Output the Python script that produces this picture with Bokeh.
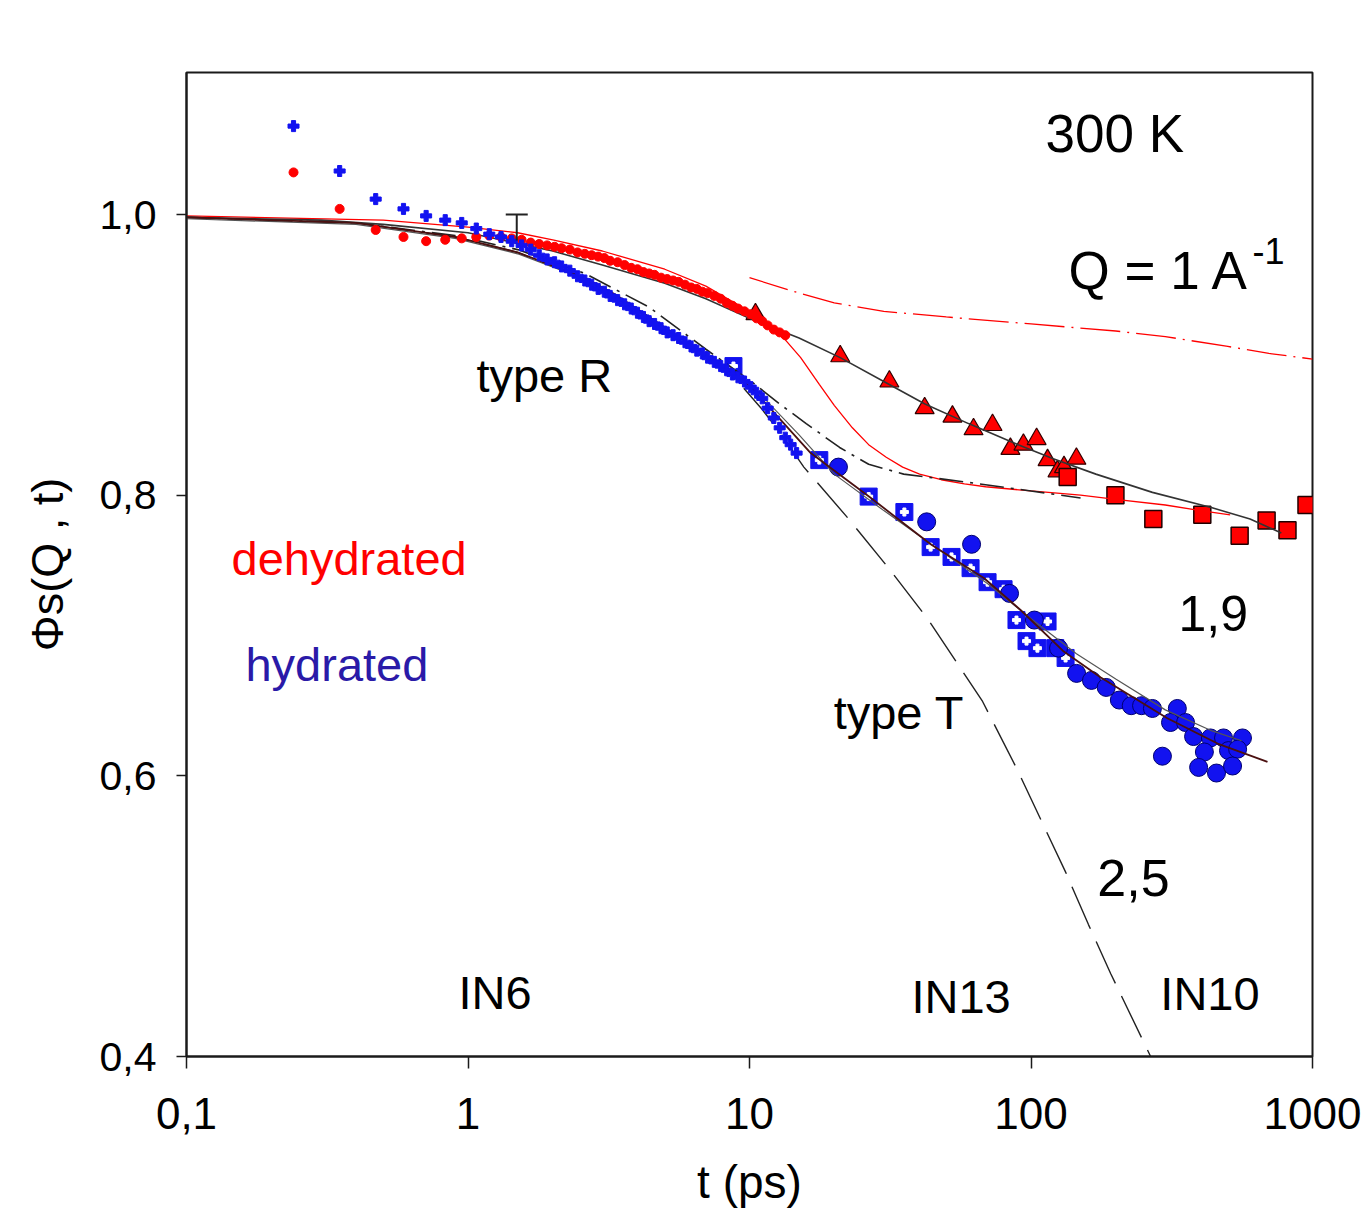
from bokeh.plotting import figure
from bokeh.models import Range1d, FixedTicker, CustomJSTickFormatter
from bokeh.core.properties import value
from bokeh.embed import file_html
from bokeh.resources import INLINE

FONT = "Liberation Sans"

# ---------------- axes ----------------
x_ticks = [0.1, 1, 10, 100, 1000]
x_tick_labels = ["0,1", "1", "10", "100", "1000"]
y_ticks = [0.4, 0.6, 0.8, 1.0]
y_tick_labels = ["0,4", "0,6", "0,8", "1,0"]
x_title = "t (ps)"
y_title = "\u03a6s(Q , t)"

# ---------------- IN6 data (small dots) ----------------
t_in6 = [0.24, 0.35, 0.47, 0.59, 0.71, 0.83, 0.95, 1.07, 1.19, 1.31, 1.43, 1.55,
         1.67, 1.79, 1.91, 2.03, 2.15, 2.3, 2.45, 2.6, 2.75, 2.9, 3.05, 3.2, 3.4,
         3.6, 3.8, 4.0, 4.2, 4.4, 4.6, 4.85, 5.1, 5.35, 5.6, 5.9, 6.2, 6.5, 6.8,
         7.1, 7.5, 7.9, 8.3, 8.7, 9.1, 9.6, 10.1, 10.6, 11.1, 11.6, 12.2, 12.8,
         13.4, 14.0, 14.7]
in6_hyd = [1.063, 1.031, 1.011, 1.004, 0.999, 0.996, 0.994, 0.990, 0.986, 0.984,
           0.981, 0.978, 0.975, 0.971, 0.968, 0.966, 0.963, 0.960, 0.956, 0.953,
           0.950, 0.947, 0.945, 0.942, 0.939, 0.936, 0.933, 0.930, 0.927, 0.924,
           0.922, 0.919, 0.916, 0.914, 0.912, 0.909, 0.906, 0.903, 0.901, 0.898,
           0.895, 0.892, 0.889, 0.886, 0.884, 0.881, 0.877, 0.873, 0.869, 0.862,
           0.855, 0.848, 0.841, 0.836, 0.830]
in6_dehyd = [1.030, 1.004, 0.989, 0.984, 0.981, 0.982, 0.983, 0.984, 0.985, 0.984,
             0.983, 0.982, 0.980, 0.979, 0.978, 0.977, 0.976, 0.975, 0.973, 0.972,
             0.971, 0.970, 0.969, 0.967, 0.966, 0.964, 0.962, 0.961, 0.959, 0.958,
             0.957, 0.955, 0.954, 0.953, 0.952, 0.950, 0.948, 0.947, 0.945, 0.944,
             0.942, 0.940, 0.937, 0.935, 0.933, 0.931, 0.929, 0.926, 0.924, 0.921,
             0.918, 0.916, 0.914]

# ---------------- IN13 / IN10 data ----------------
in13_dehyd_t = [10.5, 21.0, 31.4, 41.9, 52.6, 62.5, 73.0, 84.5, 94.0, 104.7, 114.5, 124.2, 131, 145]
in13_dehyd_y = [0.929, 0.899, 0.881, 0.862, 0.856, 0.847, 0.850, 0.833, 0.836, 0.840, 0.825, 0.817, 0.820, 0.826]

in10_dehyd_t = [135, 199.5, 272, 406, 551, 687, 815, 952]
in10_dehyd_y = [0.813, 0.800, 0.783, 0.786, 0.771, 0.782, 0.775, 0.793]

in13_hyd_t = [8.77, 17.7, 26.5, 35.5, 44.0, 52.2, 61.0, 70.1, 79.9, 88.8, 114.5, 96.4, 105.4, 122, 132.7]
in13_hyd_y = [0.892, 0.825, 0.799, 0.788, 0.763, 0.756, 0.748, 0.738, 0.733, 0.711, 0.710, 0.696, 0.691, 0.691, 0.684]

in10_hyd_t = [20.7, 42.6, 61.5, 83.9, 102.8, 125.3, 145.2, 164, 185, 206, 227, 247, 270, 331,
              313, 354, 293, 378, 434, 483, 564, 413, 503, 542, 394, 456, 520]
in10_hyd_y = [0.820, 0.781, 0.765, 0.730, 0.711, 0.691, 0.673, 0.668, 0.663, 0.654, 0.650, 0.650,
              0.648, 0.648, 0.638, 0.638, 0.614, 0.628, 0.627, 0.627, 0.627, 0.617, 0.618, 0.619,
              0.606, 0.602, 0.607]

# ---------------- model curves ----------------
fit_dehyd_t = [0.1, 0.3, 0.5, 1, 2, 3, 5, 7, 10, 15, 21, 30, 42, 60, 85, 120, 170, 270, 440, 600, 775]
fit_dehyd_y = [0.998, 0.996, 0.993, 0.987, 0.974, 0.964, 0.951, 0.940, 0.926, 0.912, 0.898, 0.881,
               0.865, 0.851, 0.838, 0.826, 0.815, 0.802, 0.791, 0.783, 0.773]

red_model_t = [0.1, 0.5, 1, 1.5, 2, 3, 5, 7, 9.8, 12, 13.5, 15.2, 17.7, 20, 23.2, 26.5, 30.6,
               35, 40.2, 48, 58, 69, 100, 150, 200, 300, 400, 510]
red_model_y = [0.999, 0.996, 0.991, 0.987, 0.982, 0.974, 0.961, 0.949, 0.932, 0.920, 0.910, 0.898,
               0.879, 0.864, 0.848, 0.836, 0.827, 0.820, 0.815, 0.811, 0.808, 0.806, 0.803, 0.800,
               0.797, 0.793, 0.789, 0.786]

red_dash_t = [10, 15, 20, 30, 50, 100, 200, 300, 500, 700, 1000]
red_dash_y = [0.955, 0.944, 0.937, 0.931, 0.927, 0.922, 0.917, 0.913, 0.906, 0.901, 0.897]

fit_hyd_t = [0.1, 0.4, 0.9, 1.5, 2.6, 3.4, 4.4, 5.8, 7.5, 10, 13, 16.5, 27, 44, 68, 92, 130, 177, 305, 460, 692]
fit_hyd_y = [0.998, 0.994, 0.984, 0.973, 0.955, 0.942, 0.927, 0.911, 0.895, 0.878, 0.853, 0.830,
             0.798, 0.765, 0.741, 0.718, 0.689, 0.670, 0.641, 0.623, 0.610]

alt_hyd_t = [0.1, 0.4, 0.9, 1.5, 2.6, 4.4, 7.5, 10, 15, 20, 30, 45, 70, 100, 145, 200, 300, 440, 560]
alt_hyd_y = [0.997, 0.993, 0.983, 0.972, 0.954, 0.927, 0.896, 0.880, 0.843, 0.815, 0.789, 0.764,
             0.737, 0.712, 0.687, 0.669, 0.647, 0.632, 0.625]

type_r_t = [0.1, 0.4, 0.9, 1.5, 2.6, 4.4, 7, 10.3, 12.8, 15.9, 20.9, 26.5, 35.3, 46.3, 60.6, 100, 150]
type_r_y = [0.998, 0.994, 0.985, 0.975, 0.958, 0.934, 0.904, 0.880, 0.865, 0.851, 0.834, 0.822,
            0.815, 0.812, 0.809, 0.803, 0.798]

type_t_t = [0.1, 0.4, 0.9, 1.5, 2.6, 4.4, 7, 9, 11, 12.9, 15.6, 22.3, 31.2, 42.9, 67.3, 89.6, 110, 133, 160, 192, 266]
type_t_y = [0.998, 0.994, 0.984, 0.973, 0.954, 0.926, 0.901, 0.882, 0.862, 0.844, 0.820, 0.784,
            0.748, 0.712, 0.653, 0.604, 0.566, 0.531, 0.494, 0.459, 0.400]

# error bar
err_t = [1.49]
err_lo = [0.9815]
err_hi = [1.0]

# ---------------- figure ----------------
p = figure(width=1370, height=1211, x_axis_type="log",
           x_range=Range1d(0.1, 1000), y_range=Range1d(0.4, 1.1012),
           output_backend="svg", toolbar_location=None, title=None,
           min_border_left=186, min_border_right=58, min_border_top=72, min_border_bottom=155)
p.xgrid.visible = False
p.ygrid.visible = False
p.outline_line_color = "#1a1a1a"
p.outline_line_width = 2
p.background_fill_color = "white"
p.border_fill_color = "white"

p.xaxis.ticker = FixedTicker(ticks=x_ticks, minor_ticks=[])
p.yaxis.ticker = FixedTicker(ticks=y_ticks, minor_ticks=[])
p.xaxis.formatter = CustomJSTickFormatter(args=dict(tvals=x_ticks, tlabels=x_tick_labels), code="""
    for (let i = 0; i < tvals.length; i++) {
        if (Math.abs(Math.log10(tvals[i]) - Math.log10(tick)) < 1e-6) return tlabels[i];
    }
    return "";
""")
p.yaxis.formatter = CustomJSTickFormatter(args=dict(tvals=y_ticks, tlabels=y_tick_labels), code="""
    for (let i = 0; i < tvals.length; i++) {
        if (Math.abs(tvals[i] - tick) < 1e-6) return tlabels[i];
    }
    return "";
""")
for ax in (p.xaxis, p.yaxis):
    ax.axis_line_width = 2
    ax.axis_line_color = "#1a1a1a"
    ax.major_tick_line_width = 1.5
    ax.major_tick_line_color = "#1a1a1a"
    ax.major_tick_in = 0
    ax.minor_tick_line_color = None
    ax.major_label_text_font = FONT
    ax.major_label_text_color = "black"
    ax.axis_label_text_font = FONT
    ax.axis_label_text_font_style = "normal"
    ax.axis_label_text_color = "black"
p.xaxis.major_tick_out = 12
p.yaxis.major_tick_out = 10
p.xaxis.major_label_text_font_size = "44px"
p.yaxis.major_label_text_font_size = "41px"
p.xaxis.major_label_standoff = 29
p.yaxis.major_label_standoff = 20
p.xaxis.axis_label = x_title
p.xaxis.axis_label_text_font_size = "46px"
p.xaxis.axis_label_standoff = 24
p.yaxis.axis_label = y_title
p.yaxis.axis_label_text_font_size = "45px"
p.yaxis.axis_label_standoff = 24

RED = "#ff0000"
BLUE = "#1212f0"

# big markers
p.scatter(in13_dehyd_t, in13_dehyd_y, marker="triangle", size=19, fill_color=RED,
          line_color="#300000", line_width=1.2)
p.scatter(in10_dehyd_t, in10_dehyd_y, marker="square", size=17, fill_color=RED,
          line_color="#200000", line_width=1.5)
p.scatter(in13_hyd_t, in13_hyd_y, marker="square", size=17, fill_color=BLUE,
          line_color=BLUE, line_width=1)
p.scatter(in13_hyd_t, in13_hyd_y, marker="plus", size=8, fill_color="white",
          line_color="white", line_width=1)
p.scatter(in10_hyd_t, in10_hyd_y, marker="circle", size=18, fill_color=BLUE,
          line_color="#000070", line_width=1)

# model curves
p.line(red_dash_t, red_dash_y, line_color=RED, line_width=1.3, line_dash="40 7 2 7")
p.line(red_model_t, red_model_y, line_color=RED, line_width=1.3)
p.line(type_r_t, type_r_y, line_color="#222222", line_width=1.6, line_dash="24 7 3 7")
p.line(type_t_t, type_t_y, line_color="#222222", line_width=1.4, line_dash="46 14")
p.line(alt_hyd_t, alt_hyd_y, line_color="#555555", line_width=1.2)
p.line(fit_dehyd_t, fit_dehyd_y, line_color="#333333", line_width=1.6)
p.line(fit_hyd_t, fit_hyd_y, line_color="#4a1010", line_width=1.8)

# IN6 dots
p.scatter(t_in6[:len(in6_dehyd)], in6_dehyd, marker="circle", size=9,
          fill_color=RED, line_color=RED, line_width=1)
p.scatter(t_in6[:len(in6_hyd)], in6_hyd, marker="plus", size=11,
          fill_color=BLUE, line_color=BLUE, line_width=1)

# error bar
p.segment(x0=err_t, y0=err_lo, x1=err_t, y1=err_hi, line_color="#222222", line_width=2)
p.scatter(err_t, err_hi, marker="dash", size=22, line_color="#222222", line_width=2)

# annotations
labels = [
    ("300 K", 112.6, 1.0577, "53px", "black"),
    ("Q = 1 A", 135.9, 0.960, "53px", "black"),
    ("type R", 1.071, 0.885, "47px", "black"),
    ("dehydrated", 0.1445, 0.755, "47px", "#ff0000"),
    ("hydrated", 0.162, 0.679, "47px", "#2a1aa8"),
    ("1,9", 334, 0.716, "50px", "black"),
    ("type T", 19.9, 0.645, "47px", "black"),
    ("2,5", 172, 0.527, "52px", "black"),
    ("IN6", 0.925, 0.4455, "47px", "black"),
    ("IN13", 37.6, 0.443, "47px", "black"),
    ("IN10", 288, 0.445, "47px", "black"),
    ("-1", 612, 0.974, "36px", "black"),
]
for txt, lx, ly, fs, col in labels:
    p.text(x=[lx], y=[ly], text=[txt], text_font=value(FONT), text_font_size=fs,
           text_color=col, text_align="left", text_baseline="middle")

open("out.html", "w").write(file_html(p, INLINE))
